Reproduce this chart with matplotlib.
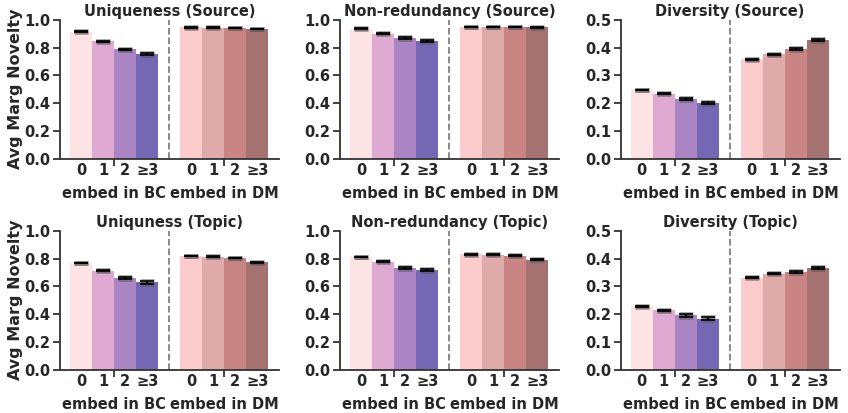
import numpy as np
import matplotlib
matplotlib.use("Agg")
import matplotlib.pyplot as plt

plt.rcParams['font.family'] = ['DejaVu Sans']
plt.rcParams['font.weight'] = 'bold'

titles = [
    "Uniqueness (Source)", "Non-redundancy (Source)", "Diversity (Source)",
    "Uniquness (Topic)", "Non-redundancy (Topic)", "Diversity (Topic)",
]
levels = ["0", "1", "2", "\u22653"]
groups = ["embed in BC", "embed in DM"]

# mean values per panel: BC then DM
bc_vals = [
    [0.915, 0.845, 0.788, 0.755],
    [0.937, 0.900, 0.867, 0.845],
    [0.247, 0.234, 0.215, 0.200],
    [0.767, 0.713, 0.658, 0.628],
    [0.812, 0.778, 0.735, 0.715],
    [0.228, 0.214, 0.195, 0.184],
]
dm_vals = [
    [0.945, 0.943, 0.940, 0.933],
    [0.950, 0.947, 0.947, 0.945],
    [0.358, 0.376, 0.394, 0.427],
    [0.820, 0.815, 0.805, 0.772],
    [0.830, 0.828, 0.822, 0.792],
    [0.331, 0.345, 0.352, 0.367],
]
bc_err = [
    [0.002, 0.003, 0.005, 0.007],
    [0.002, 0.003, 0.006, 0.007],
    [0.001, 0.002, 0.004, 0.004],
    [0.002, 0.003, 0.006, 0.008],
    [0.002, 0.004, 0.007, 0.008],
    [0.001, 0.002, 0.004, 0.004],
]
dm_err = [
    [0.001, 0.002, 0.002, 0.002],
    [0.001, 0.002, 0.002, 0.002],
    [0.001, 0.002, 0.003, 0.003],
    [0.001, 0.002, 0.002, 0.002],
    [0.001, 0.002, 0.002, 0.002],
    [0.001, 0.002, 0.003, 0.003],
]
ylims = [1.0, 1.0, 0.5, 1.0, 1.0, 0.5]

bc_colors = ['#fde3e3', '#dfaad2', '#ab85c3', '#7468b4']
dm_colors = ['#fccbcb', '#dfaaaa', '#c98484', '#a57272']

dark = '#333333'
fs = 10.5
fig, axes = plt.subplots(2, 3, figsize=(8.48, 4.13), dpi=100)
fig.subplots_adjust(left=0.071, right=0.99, top=0.952, bottom=0.105,
                    wspace=0.28, hspace=0.52)

xb = np.arange(4)
xd = np.arange(4) + 5

for i, ax in enumerate(axes.flat):
    ax.bar(xb, bc_vals[i], width=1.0, color=bc_colors)
    ax.bar(xd, dm_vals[i], width=1.0, color=dm_colors)
    for x, v, e in [(xb, bc_vals[i], bc_err[i]), (xd, dm_vals[i], dm_err[i])]:
        # soft grey halo behind the black error bars
        ax.errorbar(x, v, yerr=e, fmt='none', ecolor='#555555', alpha=0.5,
                    elinewidth=3.5, capsize=5, capthick=3.5)
        ax.errorbar(x, v, yerr=e, fmt='none', ecolor='black',
                    elinewidth=1.2, capsize=5, capthick=1.2)
    ax.axvline(4, color='gray', ls='--', lw=1.3)
    ax.set_xlim(-0.95, 9.0)
    ymax = ylims[i]
    ax.set_ylim(0, ymax)
    ax.set_yticks(np.linspace(0, ymax, 6))
    ax.set_yticklabels([f"{v:.1f}" for v in np.linspace(0, ymax, 6)],
                       fontsize=fs, fontweight='bold', color='#262626')
    ax.set_xticks(np.concatenate([xb, xd]))
    ax.set_xticklabels(levels + levels, fontsize=fs, fontweight='bold',
                       color='#262626')
    ax.tick_params(axis='x', which='major', length=0, pad=3)
    ax.set_xticks([1.5, 6.5], minor=True)
    ax.set_xticklabels(groups, minor=True, fontsize=fs, fontweight='bold',
                       color='#262626')
    ax.tick_params(axis='x', which='minor', length=5, width=1.3,
                   color=dark, pad=15)
    ax.tick_params(axis='y', length=5, width=1.3, color=dark, pad=2)
    for s in ['top', 'right']:
        ax.spines[s].set_visible(False)
    for s in ['left', 'bottom']:
        ax.spines[s].set_color(dark)
        ax.spines[s].set_linewidth(1.3)
    ax.set_title(titles[i], fontsize=fs, fontweight='bold', color='#262626',
                 pad=3)
    if i % 3 == 0:
        ax.set_ylabel("Avg Marg Novelty", fontsize=11.5, fontweight='bold',
                      color='#262626', labelpad=1)

fig.savefig("out.png", dpi=100)
